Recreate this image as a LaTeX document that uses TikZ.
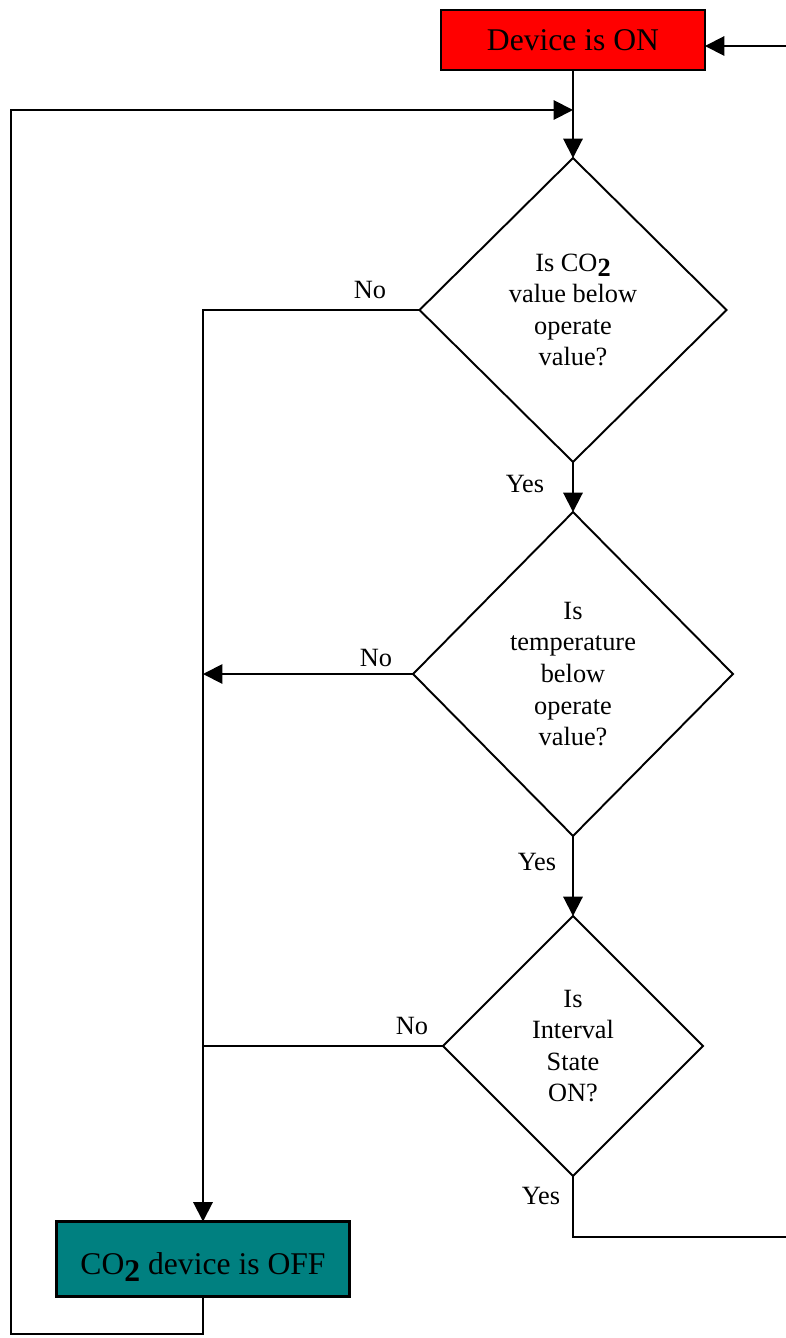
\documentclass[tikz,border=0pt]{standalone}
\usepackage{fontspec}
\setmainfont{Liberation Serif}
\usetikzlibrary{shapes.geometric,arrows.meta,positioning}
\definecolor{onred}{RGB}{255,0,0}
\definecolor{offteal}{RGB}{0,128,128}
\newcommand{\cotwo}{CO\raisebox{-0.45ex}{\textbf{2}}}
\begin{document}
\begin{tikzpicture}[x=0.02cm,y=-0.02cm,
box/.style={draw,line width=1.1pt,outer sep=0pt,font=\fontsize{18}{22}\selectfont},
decision/.style={diamond,draw,line width=1.1pt,inner sep=0pt,outer sep=0pt,align=center,font=\fontsize{15}{18}\selectfont},
lbl/.style={font=\fontsize{15}{18}\selectfont},
flow/.style={line width=1.1pt},
arr/.style={flow,-{Triangle[length=11pt,width=11pt]}}]
\useasboundingbox (0,0) rectangle (786,1338);
% boxes and decisions
\node[box,fill=onred,minimum width=5.28cm,minimum height=1.2cm](on) at (573,40){Device is ON};
\node[decision,minimum width=6.14cm,minimum height=6.08cm](co) at (573,310){Is \cotwo\\value below\\operate\\ value?};
\node[decision,minimum width=6.4cm,minimum height=6.48cm](temp) at (573,674){Is\\temperature\\below\\operate\\ value?};
\node[decision,minimum width=5.2cm,minimum height=5.2cm](intv) at (573,1046){Is\\Interval\\State\\ ON?};
\node[box,fill=offteal,line width=1.7pt,text depth=0pt,text height=18pt,minimum width=5.88cm,minimum height=1.5cm](off) at (203,1259){\cotwo{} device is OFF};
% free ends
\coordinate (inR) at (786,46);
\coordinate (outR) at (786,1237);
\coordinate (lb) at (11,1334);
\coordinate (lt) at (11,110);
\coordinate (mj) at (573,110);
% connectors
\draw[arr](inR)--(on.east |- inR);
\draw[arr](on.south)--(co.north);
\draw[arr](off.south)|-(lb)--(lt)--(mj);
\draw[arr](co.south)--(temp.north);
\draw[arr](temp.south)--(intv.north);
\draw[arr](co.west)-|(off.north);
\draw[arr](temp.west)--(temp.west -| off.north);
\draw[flow](intv.west)--(intv.west -| off.north);
\draw[flow](intv.south)|-(outR);
% labels
\node[lbl]at(370,290){No};
\node[lbl]at(376,658){No};
\node[lbl]at(412,1026){No};
\node[lbl]at(525,484){Yes};
\node[lbl]at(537,862){Yes};
\node[lbl]at(541,1196){Yes};
\end{tikzpicture}
\end{document}
